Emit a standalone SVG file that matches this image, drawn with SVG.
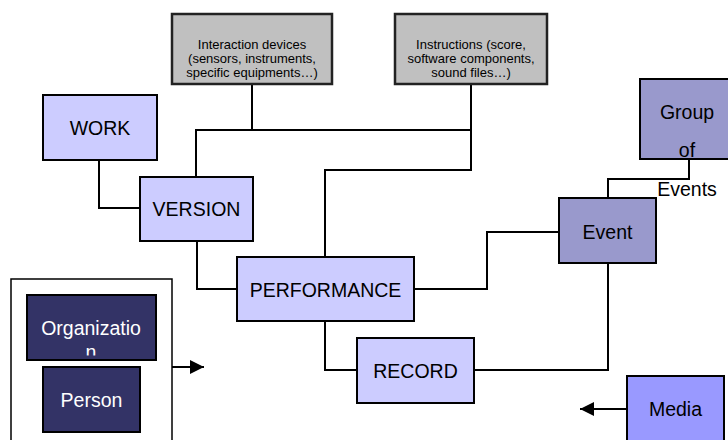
<svg xmlns="http://www.w3.org/2000/svg" width="728" height="440" viewBox="0 0 728 440">
  <defs>
    <style>
      .lbl { font-family: "Liberation Sans", Arial, Helvetica, sans-serif; font-size: 19.5px; text-anchor: middle; fill: #000; }
      .lbl-w { fill: #fff; }
      .note { font-family: "Liberation Sans", Arial, Helvetica, sans-serif; font-size: 13px; text-anchor: middle; fill: #000; }
      .box { stroke: #000; stroke-width: 2; }
      .light { fill: #ccccff; }
      .mid { fill: #9999cc; }
      .media { fill: #9999ff; }
      .dark { fill: #333366; }
      .gray { fill: #c0c0c0; stroke: #222; stroke-width: 2.5; }
      .wire { fill: none; stroke: #000; stroke-width: 2; }
    </style>
    <marker id="head" viewBox="0 0 10 10" refX="10" refY="5" markerWidth="8" markerHeight="7" markerUnits="strokeWidth" orient="auto">
      <path d="M0,0 L10,5 L0,10 Z" fill="#000"/>
    </marker>
    <clipPath id="orgClip">
      <rect x="28" y="296" width="127" height="59.5"/>
    </clipPath>
  </defs>

  <rect width="728" height="440" fill="#fff"/>

  <!-- links between the boxes -->
  <g id="connectors">
    <path class="wire" d="M252,84 V130"/>
    <path class="wire" d="M196,177 V130 H471"/>
    <path class="wire" d="M471,84 V170 H325 V257"/>
    <path class="wire" d="M99,160 V208 H140"/>
    <path class="wire" d="M197,241 V289 H237"/>
    <path class="wire" d="M414,289 H487 V232 H559"/>
    <path class="wire" d="M325,321 V370 H357"/>
    <path class="wire" d="M474,370 H608 V263"/>
    <path class="wire" d="M608,198 V179 H689 V159"/>
    <path class="wire" d="M172,367 H204" marker-end="url(#head)"/>
    <path class="wire" d="M627,409 H580" marker-end="url(#head)"/>
  </g>

  <g id="interaction-devices">
    <rect class="gray" x="172" y="14" width="160" height="70"/>
    <text class="note" x="252" y="49">Interaction devices</text>
    <text class="note" x="252" y="63">(sensors, instruments,</text>
    <text class="note" x="252" y="77">specific equipments…)</text>
  </g>

  <g id="instructions">
    <rect class="gray" x="395" y="14" width="152" height="70"/>
    <text class="note" x="471" y="49">Instructions (score,</text>
    <text class="note" x="471" y="63">software components,</text>
    <text class="note" x="471" y="77">sound files…)</text>
  </g>

  <g id="work">
    <rect class="box light" x="43" y="95" width="114" height="65"/>
    <text class="lbl" x="100" y="135">WORK</text>
  </g>

  <g id="version">
    <rect class="box light" x="140" y="177" width="113" height="64"/>
    <text class="lbl" x="196.5" y="216">VERSION</text>
  </g>

  <g id="performance">
    <rect class="box light" x="237" y="257" width="177" height="64"/>
    <text class="lbl" x="325.5" y="296.5">PERFORMANCE</text>
  </g>

  <g id="record">
    <rect class="box light" x="357" y="338" width="117" height="65"/>
    <text class="lbl" x="415.5" y="377.5">RECORD</text>
  </g>

  <g id="event">
    <rect class="box mid" x="559" y="198" width="97" height="65"/>
    <text class="lbl" x="607.5" y="239">Event</text>
  </g>

  <g id="group-of-events">
    <rect class="box mid" x="640" y="79" width="100" height="80"/>
    <text class="lbl" x="687" y="119">Group</text>
    <text class="lbl" x="687" y="157">of</text>
    <text class="lbl" x="687" y="196">Events</text>
  </g>

  <g id="media">
    <rect class="box media" x="627" y="376" width="97" height="80"/>
    <text class="lbl" x="675.5" y="415.5">Media</text>
  </g>

  <g id="agents">
    <rect x="11" y="279" width="161" height="180" fill="#fff" stroke="#000" stroke-width="1.5"/>
    <g id="organization">
      <rect class="box dark" x="27" y="295" width="129" height="65"/>
      <g clip-path="url(#orgClip)">
        <text class="lbl lbl-w" x="91" y="335">Organizatio</text>
        <text class="lbl lbl-w" x="91" y="358.5">n</text>
      </g>
    </g>
    <g id="person">
      <rect class="box dark" x="43" y="367" width="97" height="65"/>
      <text class="lbl lbl-w" x="91.5" y="406.5">Person</text>
    </g>
  </g>
</svg>
